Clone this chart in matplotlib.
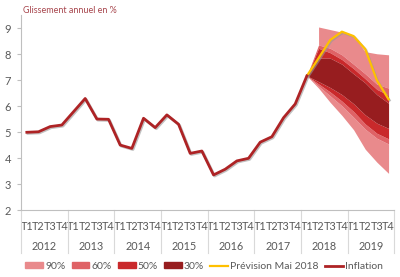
import matplotlib
matplotlib.use("Agg")
import matplotlib.pyplot as plt
import matplotlib.patheffects as pe
from matplotlib.patches import Patch
from matplotlib.lines import Line2D
import matplotlib.transforms as mtransforms
import numpy as np

plt.rcParams['font.family'] = ['Lato', 'DejaVu Sans']

years = ['2012', '2013', '2014', '2015', '2016', '2017', '2018', '2019']
quarters = ['T1', 'T2', 'T3', 'T4']

# Inflation 2012T1 .. 2018T1
inflation = [5.0, 5.02, 5.22, 5.28, 5.79, 6.3, 5.51, 5.5, 4.51, 4.38, 5.54, 5.18,
             5.67, 5.31, 4.19, 4.28, 3.36, 3.58, 3.9, 4.0, 4.62, 4.83, 5.56, 6.09, 7.17]

# Forecast 2018T1 .. 2019T4
prevision = [7.17, 7.85, 8.55, 8.87, 8.7, 8.2, 7.0, 6.27]
p90_hi = [7.17, 9.05, 8.95, 8.85, 8.72, 8.1, 8.02, 7.98]
p60_hi = [7.17, 8.36, 8.23, 7.98, 7.62, 7.25, 6.85, 6.7]
p50_hi = [7.17, 8.23, 8.06, 7.8, 7.45, 7.06, 6.65, 6.43]
p30_hi = [7.17, 7.85, 7.85, 7.62, 7.25, 6.9, 6.45, 6.12]
p30_lo = [7.17, 6.95, 6.72, 6.45, 6.1, 5.67, 5.35, 5.15]
p50_lo = [7.17, 6.86, 6.55, 6.2, 5.8, 5.32, 4.96, 4.75]
p60_lo = [7.17, 6.78, 6.4, 6.02, 5.58, 5.12, 4.77, 4.55]
p90_lo = [7.17, 6.7, 6.15, 5.65, 5.1, 4.35, 3.85, 3.42]

c90, c60, c50, c30 = '#E98A8C', '#DF6266', '#C9292B', '#971D1F'
c_inf = '#AE2325'
c_prev = '#FFC000'
grey_txt = '#595959'
axis_col = '#BFBFBF'

fig = plt.figure(figsize=(4, 2.77), dpi=100)
ax = fig.add_axes([0.0525, 0.2408, 0.9335, 0.704])

n = len(years) * len(quarters)
x_all = np.arange(n)
x_inf = x_all[:len(inflation)]
x_fc = x_all[len(inflation) - 1:len(inflation) - 1 + len(prevision)]

# fan bands
ax.fill_between(x_fc[1:], p60_hi[1:], p90_hi[1:], color=c90, lw=0, zorder=1)
ax.fill_between(x_fc, p90_lo, p60_lo, color=c90, lw=0, zorder=1)
ax.fill_between(x_fc, p50_hi, p60_hi, color=c60, lw=0, zorder=2)
ax.fill_between(x_fc, p60_lo, p50_lo, color=c60, lw=0, zorder=2)
ax.fill_between(x_fc, p30_hi, p50_hi, color=c50, lw=0, zorder=3)
ax.fill_between(x_fc, p50_lo, p30_lo, color=c50, lw=0, zorder=3)
ax.fill_between(x_fc, p30_lo, p30_hi, color=c30, lw=0, zorder=4)

shadow = [pe.SimpleLineShadow(offset=(0.8, -0.8), shadow_color='#999999', alpha=0.6), pe.Normal()]
ax.plot(x_fc, prevision, color=c_prev, lw=1.6, zorder=5, path_effects=shadow)
ax.plot(x_inf, inflation, color=c_inf, lw=2.0, zorder=6, path_effects=shadow)

ax.set_xlim(-0.5, n - 0.5)
ax.set_ylim(2, 9.5)
ax.set_yticks(range(2, 10))
ax.tick_params(axis='y', length=3, color=axis_col, labelsize=8, labelcolor=grey_txt, pad=4)
ax.set_xticks(x_all)
ax.set_xticklabels(quarters * len(years), fontsize=7.8, color=grey_txt)
ax.tick_params(axis='x', length=0, pad=8)
for s in ['top', 'right']:
    ax.spines[s].set_visible(False)
for s in ['left', 'bottom']:
    ax.spines[s].set_color(axis_col)
    ax.spines[s].set_linewidth(0.8)

trans = mtransforms.blended_transform_factory(ax.transData, ax.transAxes)
for i, yr in enumerate(years):
    ax.text(i * 4 + 1.5, -0.185, yr, transform=trans, ha='center', va='center',
            fontsize=7.8, color=grey_txt)
for i in range(len(years) + 1):
    ax.plot([i * 4 - 0.5, i * 4 - 0.5], [0, -0.22], transform=trans, color='#D9D9D9',
            lw=0.8, clip_on=False)

fig.text(0.0575, 0.963, 'Glissement annuel en %', fontsize=6.5, color='#A8474E',
         ha='left', va='center')

handles = [Patch(color=c90, label='90%'), Patch(color=c60, label='60%'),
           Patch(color=c50, label='50%'), Patch(color=c30, label='30%'),
           Line2D([], [], color=c_prev, lw=1.6, label='Prévision Mai 2018'),
           Line2D([], [], color=c_inf, lw=2.0, label='Inflation')]
leg = fig.legend(handles=handles, loc='center', bbox_to_anchor=(0.51, 0.038), ncol=6,
                 frameon=False, fontsize=7.5, handlelength=1.7, handleheight=0.5,
                 handletextpad=0.2, columnspacing=0.6, borderpad=0, borderaxespad=0)
for t in leg.get_texts():
    t.set_color(grey_txt)

fig.savefig('out.png', dpi=100)
